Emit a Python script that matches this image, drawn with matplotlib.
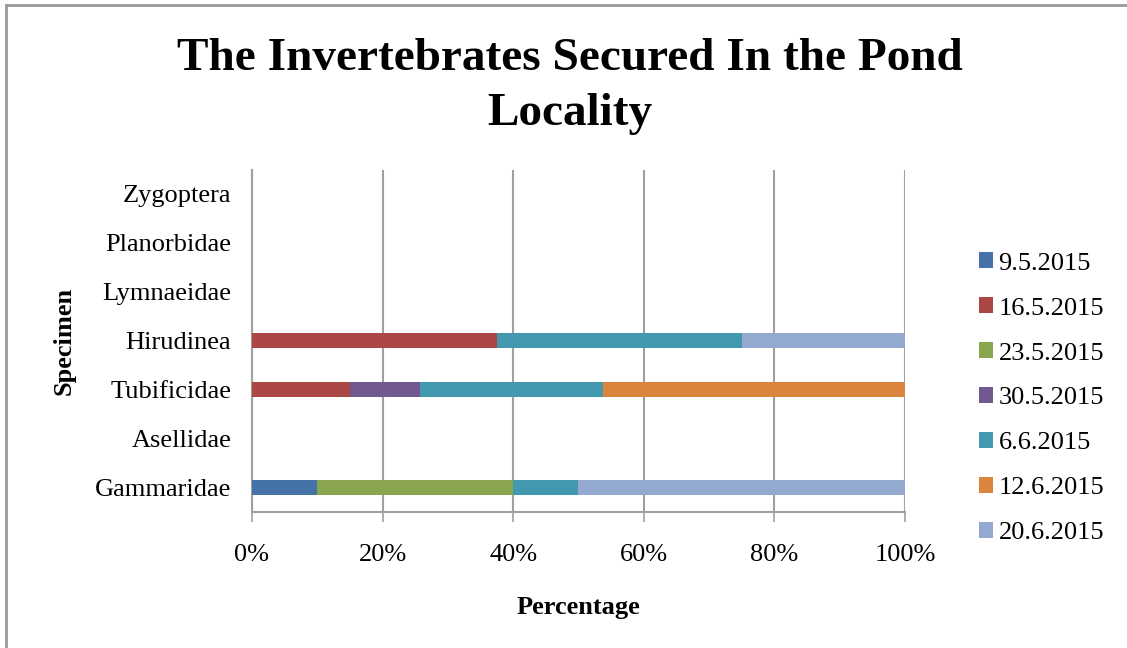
import matplotlib
matplotlib.use("Agg")
import matplotlib.pyplot as plt
from matplotlib.lines import Line2D
from matplotlib.patches import Patch

# data (percent of each specimen's total)
specimens = ["Gammaridae", "Asellidae", "Tubificidae", "Hirudinea",
             "Lymnaeidae", "Planorbidae", "Zygoptera"]
dates = ["9.5.2015", "16.5.2015", "23.5.2015", "30.5.2015",
         "6.6.2015", "12.6.2015", "20.6.2015"]
s_9_5 = [10, 0, 0, 0, 0, 0, 0]
s_16_5 = [0, 0, 15, 37.5, 0, 0, 0]
s_23_5 = [30, 0, 0, 0, 0, 0, 0]
s_30_5 = [0, 0, 10.8, 0, 0, 0, 0]
s_6_6 = [10, 0, 28, 37.5, 0, 0, 0]
s_12_6 = [0, 0, 46.2, 0, 0, 0, 0]
s_20_6 = [50, 0, 0, 25, 0, 0, 0]
series = [s_9_5, s_16_5, s_23_5, s_30_5, s_6_6, s_12_6, s_20_6]
colors = ["#4572A7", "#AA4643", "#89A54E", "#71588F",
          "#4198AF", "#DB843D", "#93A9CF"]

plt.rcParams['font.family'] = ['Liberation Serif', 'DejaVu Serif']

fig = plt.figure(figsize=(11.27, 6.48), dpi=100)
ax = fig.add_axes([0.2236, 0.2099, 0.5794, 0.5285])

ypos = list(range(len(specimens)))
left = [0.0] * len(specimens)
for vals, col, lab in zip(series, colors, dates):
    ax.barh(ypos, vals, left=left, height=0.3, color=col, label=lab, zorder=3)
    left = [a + b for a, b in zip(left, vals)]

ax.set_xlim(0, 100)
ax.set_ylim(-0.5, len(specimens) - 0.5)
ax.set_xticks([0, 20, 40, 60, 80, 100])
ax.set_xticklabels(["0%", "20%", "40%", "60%", "80%", "100%"])
ax.set_yticks(ypos)
ax.set_yticklabels(specimens)
ax.tick_params(axis='x', labelsize=19, length=7, width=1.2, color='#a0a0a0', pad=16)
ax.tick_params(axis='y', labelsize=19, length=0, pad=15)
ax.grid(axis='x', color='#a0a0a0', linewidth=1.5, zorder=0)
for side in ['top', 'right']:
    ax.spines[side].set_visible(False)
for side in ['left', 'bottom']:
    ax.spines[side].set_color('#a0a0a0')
    ax.spines[side].set_linewidth(1.5)

ax.set_xlabel("Percentage", fontsize=19, fontweight='bold', labelpad=22)
ax.set_ylabel("Specimen", fontsize=19, fontweight='bold', labelpad=14)

fig.text(0.506, 0.866, "The Invertebrates Secured In the Pond\nLocality",
         ha='center', va='center', fontsize=34, fontweight='bold',
         linespacing=1.4)

handles = [Patch(facecolor=c, label=d) for c, d in zip(colors, dates)]
fig.legend(handles=handles, loc='upper left', bbox_to_anchor=(0.859, 0.627),
           frameon=False, fontsize=19, handlelength=0.55, handleheight=0.55,
           handletextpad=0.2, labelspacing=0.86, borderaxespad=0)

# outer chart border (left and top only visible)
fig.add_artist(Line2D([6 / 1127, 6 / 1127], [0, 1 - 5 / 648], color='#999999', lw=2))
fig.add_artist(Line2D([6 / 1127, 1], [1 - 5 / 648, 1 - 5 / 648], color='#999999', lw=2))

fig.savefig("out.png", dpi=100)
